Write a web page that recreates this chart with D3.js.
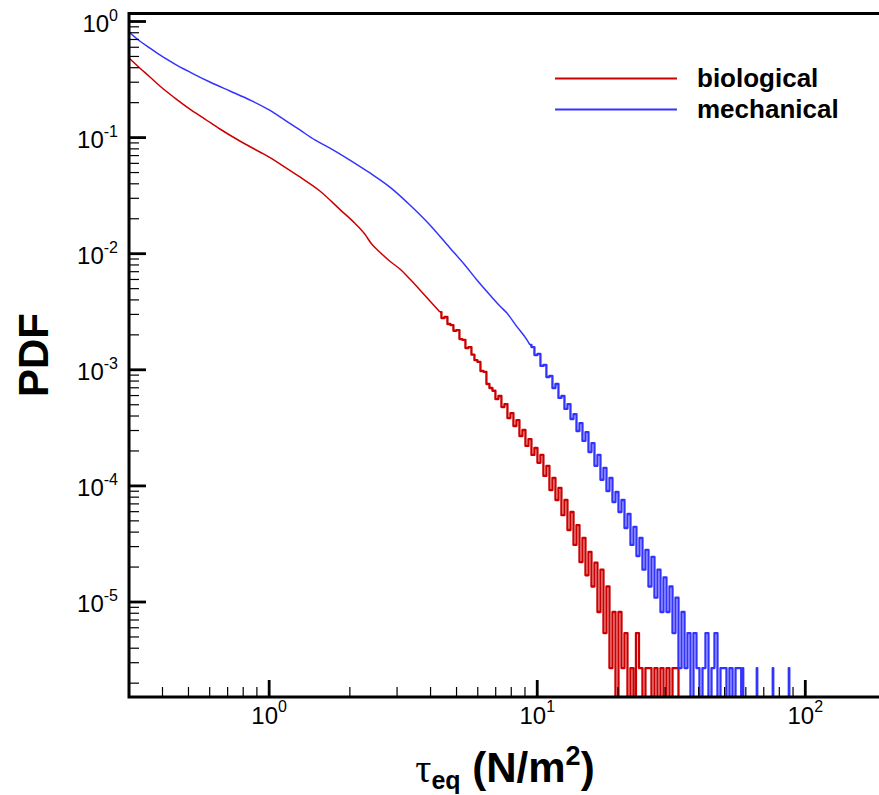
<!DOCTYPE html>
<html>
<head>
<meta charset="utf-8">
<script src="https://cdn.jsdelivr.net/npm/d3@7"></script>
<style>
  html, body { margin: 0; padding: 0; background: #fff; }
  svg { display: block; }
</style>
</head>
<body>
<svg id="chart"></svg>
<script>
const width = 879;
const height = 795;

// PDF of equivalent shear stress: [tau (N/m^2), pdf]
const bioSmooth = [
  [0.30, 0.485], [0.329, 0.398], [0.359, 0.333], [0.391, 0.278], [0.445, 0.219],
  [0.506, 0.176], [0.576, 0.1446], [0.655, 0.1186], [0.777, 0.0935], [0.923, 0.0752],
  [1.0, 0.068], [1.144, 0.0558], [1.302, 0.0458], [1.546, 0.0347], [1.835, 0.0241],
  [2.088, 0.0183], [2.276, 0.0147], [2.416, 0.01206], [2.589, 0.0103], [2.821, 0.00861],
  [3.074, 0.00738], [3.35, 0.00605], [3.651, 0.00487], [3.978, 0.00391]
];
const bioTail = [
  [4.335, 3.14e-3], [4.448, 2.79e-3], [4.564, 2.85e-3], [4.683, 2.48e-3], [4.806, 2.43e-3],
  [4.931, 2.17e-3], [5.06, 2.2e-3], [5.192, 1.84e-3], [5.328, 1.81e-3], [5.467, 1.54e-3],
  [5.61, 1.57e-3], [5.756, 1.35e-3], [5.907, 1.21e-3], [6.061, 1.17e-3], [6.219, 9.77e-4],
  [6.382, 9.6e-4], [6.546, 7.55e-4], [6.718, 6.97e-4], [6.893, 6.6e-4], [7.073, 5.6e-4],
  [7.258, 5.95e-4], [7.447, 4.78e-4], [7.642, 5.07e-4], [7.842, 3.84e-4], [8.046, 4.24e-4],
  [8.256, 3.28e-4], [8.472, 3.69e-4], [8.693, 2.69e-4], [8.92, 3.03e-4], [9.155, 2.21e-4],
  [9.393, 2.53e-4], [9.638, 1.85e-4], [9.888, 2.12e-4], [10.15, 1.58e-4], [10.41, 1.85e-4],
  [10.68, 1.22e-4], [10.96, 1.49e-4], [11.25, 9.2e-5], [11.54, 1.17e-4], [11.85, 7.56e-5],
  [12.15, 9.6e-5], [12.47, 5.6e-5], [12.8, 7.56e-5], [13.13, 4.17e-5], [13.48, 5.96e-5],
  [13.83, 3.1e-5], [14.19, 4.6e-5], [14.56, 2.21e-5], [14.94, 3.56e-5], [15.33, 1.7e-5],
  [15.73, 2.7e-5], [16.14, 1.36e-5], [16.56, 2.18e-5], [16.99, 8.2e-6], [17.44, 1.9e-5],
  [17.89, 5.4e-6], [18.36, 1.36e-5], [18.84, 2.7e-6], [19.33, 8.2e-6], [19.84, 0],
  [20.35, 8.2e-6], [20.89, 2.7e-6], [21.43, 5.4e-6], [21.99, 0], [22.56, 2.7e-6],
  [23.15, 0], [23.55, 5.4e-6], [24.38, 2.7e-6], [25.01, 0], [25.66, 2.7e-6],
  [26.34, 2.7e-6], [27.02, 0], [27.73, 2.7e-6], [28.45, 0], [29.2, 2.7e-6],
  [29.96, 0], [30.74, 2.7e-6], [31.55, 0], [32.37, 2.7e-6], [33.21, 2.7e-6], [34.09, 0]
];

const mechSmooth = [
  [0.30, 0.812], [0.329, 0.679], [0.359, 0.591], [0.391, 0.515], [0.445, 0.43],
  [0.506, 0.367], [0.601, 0.301], [0.714, 0.252], [0.847, 0.211], [1.0, 0.173],
  [1.144, 0.1417], [1.302, 0.1163], [1.481, 0.0954], [1.685, 0.0813], [2.0, 0.0641],
  [2.376, 0.0496], [2.821, 0.0375], [3.35, 0.0263], [3.978, 0.0177], [4.724, 0.0112],
  [5.37, 7.99e-3], [5.957, 5.94e-3], [6.661, 4.41e-3], [7.258, 3.54e-3], [7.707, 3.08e-3],
  [8.37, 2.38e-3], [9.155, 1.81e-3]
];
const mechTail = [
  [9.393, 1.64e-3], [9.638, 1.57e-3], [9.888, 1.34e-3], [10.15, 1.37e-3], [10.41, 1.08e-3],
  [10.68, 1.1e-3], [10.96, 8.67e-4], [11.25, 8.84e-4], [11.54, 6.97e-4], [11.85, 7.55e-4],
  [12.15, 5.72e-4], [12.47, 5.95e-4], [12.8, 4.6e-4], [13.13, 5.07e-4], [13.48, 3.77e-4],
  [13.83, 4.16e-4], [14.19, 2.97e-4], [14.56, 3.48e-4], [14.94, 2.44e-4], [15.33, 2.91e-4],
  [15.73, 1.96e-4], [16.14, 2.34e-4], [16.56, 1.49e-4], [16.99, 1.85e-4], [17.44, 1.13e-4],
  [17.89, 1.43e-4], [18.36, 9.04e-5], [18.84, 1.17e-4], [19.33, 7.27e-5], [19.84, 8.86e-5],
  [20.35, 5.96e-5], [20.89, 7.56e-5], [21.43, 4.34e-5], [21.99, 5.73e-5], [22.56, 3.1e-5],
  [23.15, 4.43e-5], [23.75, 2.49e-5], [24.38, 3.56e-5], [25.01, 1.9e-5], [25.66, 2.81e-5],
  [26.34, 1.36e-5], [27.02, 2.45e-5], [27.73, 1.09e-5], [28.45, 1.9e-5], [29.2, 8.2e-6],
  [29.96, 1.63e-5], [30.74, 8.2e-6], [31.55, 1.36e-5], [32.37, 5.4e-6], [33.21, 1.09e-5],
  [34.09, 2.7e-6], [34.98, 8.2e-6], [35.89, 2.7e-6], [36.81, 5.4e-6], [37.78, 0],
  [38.76, 5.4e-6], [39.78, 2.7e-6], [40.81, 0], [41.88, 2.7e-6], [42.97, 5.4e-6],
  [44.1, 0], [45.25, 2.7e-6], [46.43, 5.4e-6], [47.64, 0], [48.89, 2.7e-6],
  [50.16, 2.7e-6], [51.47, 0], [52.82, 2.7e-6], [54.2, 0], [55.62, 2.7e-6],
  [57.06, 2.7e-6], [58.3, 0], [58.55, 2.7e-6], [58.8, 0], [65.77, 0],
  [66.05, 2.7e-6], [66.33, 0], [75.44, 0], [75.77, 2.7e-6], [76.1, 0],
  [86.6, 0], [86.97, 2.7e-6], [87.35, 0]
];

const seriesNames = ["biological", "mechanical"];
const seriesColors = ["#cc0000", "#3333ff"];

const xDomain = [0.3, 200];
const yDomain = [1.52e-6, 1.172];

const font = "'Liberation Sans', Arial, Helvetica, sans-serif";

const svg = d3.select("#chart")
  .attr("width", width)
  .attr("height", height)
  .attr("viewBox", `0 0 ${width} ${height}`)
  .style("font-family", font);

const plot = { left: 129, right: 886, top: 13.5, bottom: 697 };

const x = d3.scaleLog().domain(xDomain).range([plot.left, plot.right]);
const y = d3.scaleLog().domain(yDomain).range([plot.bottom, plot.top]);

svg.append("defs").append("clipPath").attr("id", "clip")
  .append("rect")
  .attr("x", plot.left).attr("y", plot.top)
  .attr("width", plot.right - plot.left).attr("height", plot.bottom - plot.top);

// zero bins drop below the bottom axis
const py = (d) => (d[1] > 0 ? y(d[1]) : plot.bottom + 20);
const smoothLine = d3.line().x((d) => x(d[0])).y(py).curve(d3.curveMonotoneX);
const stepLine = d3.line().x((d) => x(d[0])).y(py).curve(d3.curveStep);

const series = [
  { name: seriesNames[0], color: seriesColors[0], smooth: bioSmooth, tail: bioTail },
  { name: seriesNames[1], color: seriesColors[1], smooth: mechSmooth, tail: mechTail }
];

const curves = svg.append("g")
  .attr("clip-path", "url(#clip)")
  .attr("fill", "none")
  .attr("stroke-linejoin", "round")
  .selectAll("g")
  .data(series)
  .join("g")
  .attr("stroke", (d) => d.color);

curves.append("path")
  .attr("stroke-width", 1.5)
  .attr("d", (d) => smoothLine(d.smooth.concat([d.tail[0]])));
// noisy tail: many narrow bins, drawn heavier so it reads as a band
curves.append("path")
  .attr("stroke-width", 2.3)
  .attr("d", (d) => stepLine(d.tail));

// ticks
const isMajor = (t) => Math.abs(Math.log10(t) - Math.round(Math.log10(t))) < 1e-6;
const xTicks = x.ticks().filter((t) => t > xDomain[0] * 1.001 && t < xDomain[1] * 0.999);
const yTicks = y.ticks().filter((t) => t > yDomain[0] * 1.001 && t < yDomain[1] * 0.999);

const ticks = svg.append("g").attr("stroke", "#000");
ticks.selectAll("line.xt")
  .data(xTicks)
  .join("line")
  .attr("class", "xt")
  .attr("x1", (d) => x(d)).attr("x2", (d) => x(d))
  .attr("y1", plot.bottom)
  .attr("y2", (d) => plot.bottom - (isMajor(d) ? 17 : 10))
  .attr("stroke-width", (d) => (isMajor(d) ? 2.8 : 1.2));
ticks.selectAll("line.yt")
  .data(yTicks)
  .join("line")
  .attr("class", "yt")
  .attr("y1", (d) => y(d)).attr("y2", (d) => y(d))
  .attr("x1", plot.left)
  .attr("x2", (d) => plot.left + (isMajor(d) ? 17 : 10))
  .attr("stroke-width", (d) => (isMajor(d) ? 2.8 : 1.2));

// frame
svg.append("rect")
  .attr("x", plot.left).attr("y", plot.top)
  .attr("width", plot.right - plot.left).attr("height", plot.bottom - plot.top)
  .attr("fill", "none")
  .attr("stroke", "#000")
  .attr("stroke-width", 3);

// tick labels 10^n
const expo = (t) => String(Math.round(Math.log10(t)));

const xLab = svg.append("g").selectAll("text")
  .data(xTicks.filter(isMajor))
  .join("text")
  .attr("x", (d) => x(d))
  .attr("y", plot.bottom + 27)
  .attr("text-anchor", "middle")
  .attr("font-size", 24);
xLab.append("tspan").text("10");
xLab.append("tspan").attr("dy", -12).attr("font-size", 16).text(expo);

const yLab = svg.append("g").selectAll("text")
  .data(yTicks.filter(isMajor))
  .join("text")
  .attr("x", 118)
  .attr("y", (d) => y(d) + 10)
  .attr("text-anchor", "end")
  .attr("font-size", 24);
yLab.append("tspan").text("10");
yLab.append("tspan").attr("dy", -11).attr("font-size", 16).text(expo);

// axis titles
svg.append("text")
  .attr("transform", "translate(48,355) rotate(-90)")
  .attr("text-anchor", "middle")
  .attr("font-size", 42)
  .attr("font-weight", "bold")
  .text("PDF");

const xt = svg.append("text")
  .attr("x", 505)
  .attr("y", 782)
  .attr("text-anchor", "middle")
  .attr("font-weight", "bold")
  .attr("font-size", 42);
xt.append("tspan")
  .attr("font-family", "'Liberation Serif', 'DejaVu Serif', serif")
  .attr("font-weight", "normal")
  .attr("font-size", 40)
  .text("τ");
xt.append("tspan").attr("dy", 7).attr("font-size", 25).text("eq");
xt.append("tspan").attr("dy", -7).text(" (N/m");
xt.append("tspan").attr("dy", -17).attr("font-size", 27).text("2");
xt.append("tspan").attr("dy", 17).text(")");

// legend
const legend = svg.append("g")
  .selectAll("g")
  .data(series)
  .join("g")
  .attr("transform", (d, i) => `translate(555, ${78.5 + i * 31})`);
legend.append("line")
  .attr("x1", 0).attr("x2", 122)
  .attr("stroke", (d) => d.color)
  .attr("stroke-width", 1.8);
legend.append("text")
  .attr("x", 142)
  .attr("y", 8.5)
  .attr("font-size", 26)
  .attr("font-weight", "bold")
  .text((d) => d.name);
</script>
</body>
</html>
